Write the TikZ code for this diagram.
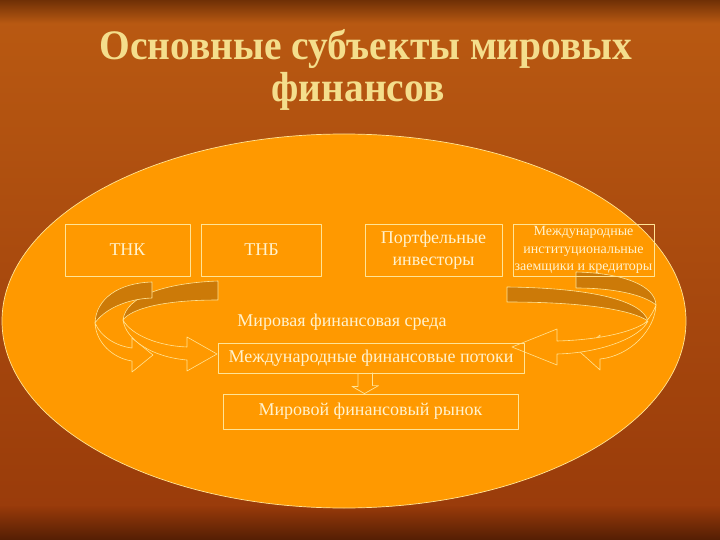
\documentclass[tikz,border=0pt]{standalone}
\usepackage{fontspec}
\setmainfont{Liberation Serif}
\newfontfamily\headfont{Liberation Serif}[FakeStretch=0.94]
\usetikzlibrary{calc}

\definecolor{bgtop}{RGB}{112,48,6}
\definecolor{bgmid}{RGB}{186,90,18}
\definecolor{bgbot}{RGB}{152,58,10}
\definecolor{bgdark}{RGB}{84,30,4}
\definecolor{oval}{RGB}{255,153,0}
\definecolor{band}{RGB}{204,122,8}
\definecolor{rim}{RGB}{255,228,150}
\definecolor{txt}{RGB}{255,242,205}
\definecolor{ttl}{RGB}{244,222,140}

\begin{document}
\begin{tikzpicture}[x=1pt, y=-1pt, line join=round,
  heading/.style={anchor=base, text=ttl, font=\headfont\bfseries\fontsize{42}{46}\selectfont},
  box/.style={draw=rim, line width=0.8pt, text=txt, inner sep=0pt, align=center,
    font=\fontsize{18}{22}\selectfont},
  smallbox/.style={box, font=\fontsize{14}{17.5}\selectfont},
  back/.style={fill=band, draw=rim, line width=0.6pt},
  front/.style={fill=oval, draw=rim, line width=0.6pt}]
  \useasboundingbox (0,0) rectangle (720,540);

  % Background
  \shade[top color=bgmid, bottom color=bgbot] (0,0) rectangle (720,540);
  \shade[top color=bgtop, bottom color=bgmid] (0,0) rectangle (720,24);
  \shade[top color=bgbot, bottom color=bgdark] (0,506) rectangle (720,540);

  % Title
  \node[heading] (head1) at (366,60) {Основные субъекты мировых};
  \node[heading] (head2) at (358,102) {финансов};

  % Oval
  \filldraw[fill=oval, draw=rim, line width=0.7pt] (344,321) ellipse [x radius=342, y radius=187];

  % Left curved arrows
  \path[back] (218,281) .. controls (165,283) and (126,296) .. (123,320)
    .. controls (131,309) and (162,300) .. (218,300) -- cycle;
  \path[back] (152,282) .. controls (118,283) and (96,299) .. (95,323)
    .. controls (103,311) and (124,299) .. (152,298) -- cycle;
  \path[front] (95,323) .. controls (96,342) and (112,358) .. (132,361)
    -- (132,372) -- (153,355) -- (132,338) -- (132,348)
    .. controls (116,346) and (101,337) .. (95,323) -- cycle;
  \path[front] (123,320) .. controls (126,340) and (152,357) .. (187,360)
    -- (187,371) -- (217,354) -- (187,337) -- (187,347)
    .. controls (160,346) and (132,336) .. (123,320) -- cycle;

  % Right curved arrows
  \path[back] (507,287) .. controls (590,288) and (642,300) .. (648,321)
    .. controls (632,310) and (585,302) .. (507,302) -- cycle;
  \path[back] (576,272) .. controls (622,273) and (655,285) .. (656,305)
    .. controls (644,295) and (615,288) .. (576,288) -- cycle;
  \path[front] (656,305) .. controls (655,330) and (630,356) .. (600,359)
    -- (600,370) -- (580,352) -- (600,335) -- (600,346)
    .. controls (624,343) and (648,327) .. (656,305) -- cycle;
  \path[front] (648,321) .. controls (640,338) and (600,353) .. (557,354)
    -- (557,365) -- (512,347) -- (557,329) -- (557,341)
    .. controls (596,340) and (632,333) .. (648,321) -- cycle;

  % Subjects
  \node[box, minimum width=125pt, minimum height=52pt] (tnk) at (127.5,250) {ТНК};
  \node[box, minimum width=120pt, minimum height=52pt] (tnb) at (261.5,250) {ТНБ};
  \node[box, minimum width=137pt, minimum height=52pt] (port) at (433.5,250) {Портфельные\\инвесторы};
  \node[smallbox, minimum width=141pt, minimum height=52pt] (mezh) at (583.5,250)
    {Международные\\институциональные\\заемщики и кредиторы};

  % Environment, flows, market
  \node[text=txt, font=\fontsize{18}{22}\selectfont] (sreda) at (342,322) {Мировая финансовая среда};
  \node[box, minimum width=306pt, minimum height=30pt] (potoki) at (371,358) {Международные финансовые потоки};
  \node[box, minimum width=295pt, minimum height=35pt] (rynok) at (370.5,411.5) {Мировой финансовый рынок};

  % Hollow arrow down
  \draw[draw=rim, line width=0.7pt] ($(potoki.south)+(-13,0)$) -- ++(0,13) -- ++(-6,0)
    -- ($(rynok.north)+(-6,0)$) -- ++(14,-8) -- ++(-6,0) -- ++(0,-13);
\end{tikzpicture}
\end{document}
